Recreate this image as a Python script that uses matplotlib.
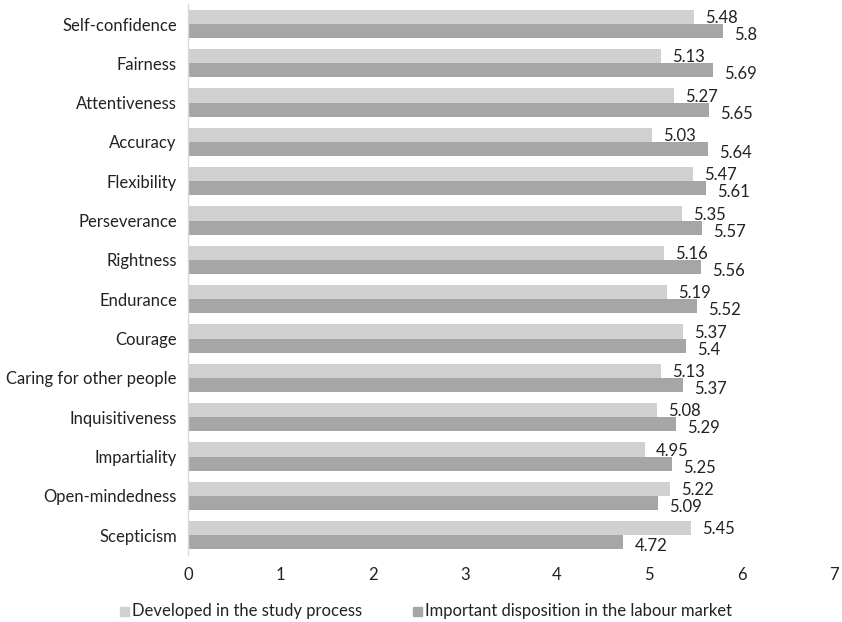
import matplotlib
matplotlib.use("Agg")
import matplotlib.pyplot as plt
import numpy as np
from matplotlib.patches import Rectangle

categories = ["Self-confidence", "Fairness", "Attentiveness", "Accuracy", "Flexibility",
              "Perseverance", "Rightness", "Endurance", "Courage", "Caring for other people",
              "Inquisitiveness", "Impartiality", "Open-mindedness", "Scepticism"]
developed = [5.48, 5.13, 5.27, 5.03, 5.47, 5.35, 5.16, 5.19, 5.37, 5.13, 5.08, 4.95, 5.22, 5.45]
important = [5.8, 5.69, 5.65, 5.64, 5.61, 5.57, 5.56, 5.52, 5.4, 5.37, 5.29, 5.25, 5.09, 4.72]
series_names = ["Developed in the study process", "Important disposition in the labour market"]
x_ticks = [0, 1, 2, 3, 4, 5, 6, 7]

light = "#d0d0d0"
dark = "#a6a6a6"
fs = 12

plt.rcParams['font.family'] = ['Lato', 'DejaVu Sans']

fig = plt.figure(figsize=(8.42, 6.22), dpi=100)
ax = fig.add_axes([0.2233, 0.108, 0.767, 0.885])

n = len(categories)
y = np.arange(n)
h = 0.36
ax.barh(y - h / 2, developed, height=h, color=light, label=series_names[0])
ax.barh(y + h / 2, important, height=h, color=dark, label=series_names[1])

for yi, v in zip(y, developed):
    ax.text(v + 0.12, yi - h / 2 + 0.03, f"{v:g}", va="center", ha="left", fontsize=fs, color="#222222")
for yi, v in zip(y, important):
    ax.text(v + 0.12, yi + h / 2 + 0.1, f"{v:g}", va="center", ha="left", fontsize=fs, color="#222222")

ax.set_ylim(n - 0.5, -0.5)
ax.set_xlim(0, 7)
ax.set_yticks(y)
ax.set_yticklabels(categories, fontsize=fs, color="#222222")
ax.set_xticks(x_ticks)
ax.set_xticklabels([str(t) for t in x_ticks], fontsize=fs, color="#222222")
ax.tick_params(length=0, pad=8)
ax.tick_params(axis="x", pad=9)
for s in ["top", "right", "bottom"]:
    ax.spines[s].set_visible(False)
ax.spines["left"].set_color("#d9d9d9")
ax.spines["left"].set_linewidth(1.0)

# legend drawn in figure coordinates
leg_y = 1 - 611 / 622
for xpx, name, col in [(120, series_names[0], light), (413, series_names[1], dark)]:
    fig.patches.append(Rectangle((xpx / 842, leg_y - 4.5 / 622), 9 / 842, 9 / 622,
                                 transform=fig.transFigure, color=col))
    fig.text((xpx + 12) / 842, leg_y, name, va="center", ha="left", fontsize=fs, color="#222222")

fig.savefig("out.png", dpi=100)
